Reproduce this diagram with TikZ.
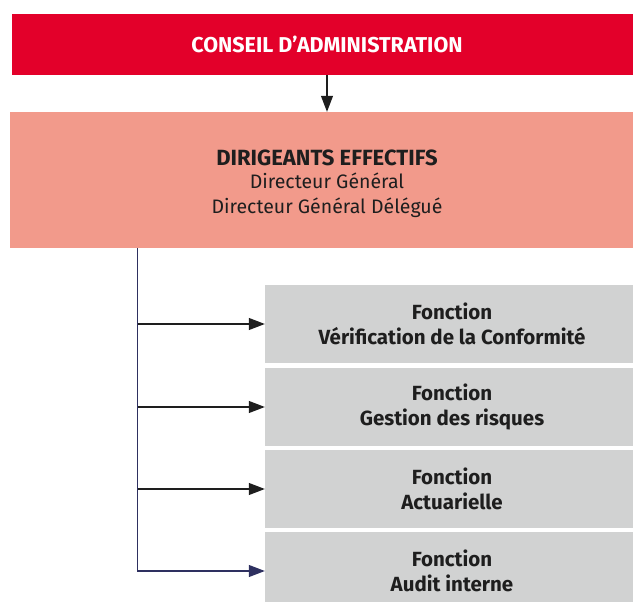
\documentclass[tikz,border=0pt]{standalone}
\usepackage{fontspec}
\setmainfont{Fira Sans}
\usetikzlibrary{arrows.meta}
\definecolor{carouge}{HTML}{E3002A}
\definecolor{dirsaumon}{HTML}{F29A8B}
\definecolor{fongris}{HTML}{D1D2D2}
\definecolor{texte}{HTML}{1E1E1E}
\definecolor{trait}{HTML}{2E3060}

\begin{document}
\begin{tikzpicture}[x=1pt,y=-1pt,
  every node/.style={inner sep=0pt,align=center,font=\fontsize{19.5}{24.5}\selectfont},
  fonc/.style={fill=fongris,text=texte,minimum width=374pt,minimum height=78pt,font=\fontsize{20.5}{25}\selectfont\bfseries},
  lien/.style={draw=texte,line width=1.1pt,-{Triangle[length=16pt,width=12pt]}}]
\useasboundingbox (0,0) rectangle (633,602);
\node [fill=carouge,text=white,minimum width=630pt,minimum height=61pt,font=\fontsize{21.5}{25}\selectfont\bfseries] (ca) at (327,44.5) {CONSEIL D’ADMINISTRATION};
\node [fill=dirsaumon,text=texte,minimum width=634pt,minimum height=136pt] (dir) at (327,180) {\rule{0pt}{23pt}{\fontsize{22}{24.5}\selectfont\bfseries DIRIGEANTS EFFECTIFS}\\[-1.5pt]Directeur Général\\Directeur Général Délégué};
\node [fonc] (conf) at (452,324) {Fonction\\Vérification de la Conformité};
\node [fonc] (risq) at (452,407) {Fonction\\Gestion des risques};
\node [fonc] (actu) at (452,489) {Fonction\\Actuarielle};
\node [fonc] (audit) at (452,571) {Fonction\\Audit interne};
\draw [lien] (ca) -- (dir);
\coordinate (tronc) at ([xshift=128pt]dir.south west);
\draw [lien,draw=trait] (tronc) |- (audit.west);
\foreach \f in {conf,risq,actu}
  \draw [lien] (tronc |- \f.west) -- (\f.west);
\end{tikzpicture}
\end{document}
